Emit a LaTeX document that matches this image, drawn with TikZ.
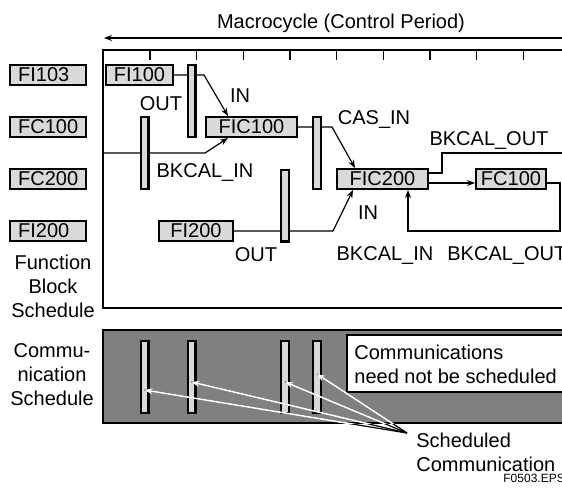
\documentclass[tikz,border=0pt]{standalone}
\usepackage{fontspec}
\setmainfont{Liberation Sans}
\usepackage{xcolor}
\usepackage{tikz}
\usetikzlibrary{arrows.meta, positioning, calc}

\definecolor{boxgray}{HTML}{D9D9D9}
\definecolor{commgray}{HTML}{808080}

\begin{document}
\begin{tikzpicture}[
        x=0.5pt, y=-0.5pt,
        font=\fontsize{10}{12}\selectfont,
        fblock/.style={draw, line width=1.2pt, fill=boxgray, minimum height=9.8pt, inner sep=0pt},
        lblock/.style={fblock, text width=29.8pt, inner xsep=4pt, align=left},
        bar/.style={draw, line width=1.2pt, fill=boxgray, minimum width=3.8pt, minimum height=35.8pt, inner sep=0pt},
        frame/.style={line width=1.2pt},
        link/.style={line width=0.6pt},
        tip/.style={link, -{Stealth[length=4pt, width=3pt]}},
        label/.style={anchor=base, inner sep=0pt}
    ]
    \clip (0,0) rectangle (562,492);

    % Macrocycle
    \node[label] (macro) at (341,29) {Macrocycle (Control Period)};
    \coordinate (mstart) at (580,38);
    \coordinate (mend) at (104,38);
    \draw[tip] (mstart) -- (mend);

    % Function block schedule frame
    \draw[frame] (103,50) rectangle (580,308);
    \foreach \k in {0,...,8}
        \draw[line width=0.8pt] ({150+46.67*\k},50) -- ++(0,10);

    % Block names on the left
    \node[lblock] (lfi103) at (48,75) {FI103};
    \node[lblock, below=15pt of lfi103] (lfc100) {FC100};
    \node[lblock, below=15pt of lfc100] (lfc200) {FC200};
    \node[lblock, below=15pt of lfc200] (lfi200) {FI200};
    \node[align=center, inner sep=0pt] (fbsched) at (53,286) {Function\\Block\\Schedule};

    % Function blocks
    \node[fblock, minimum width=33.3pt] (fi100) at (139.5,75) {FI100};
    \node[fblock, minimum width=45.3pt] (fic100) at (251.5,127) {FIC100};
    \node[fblock, minimum width=36.8pt] (fi200) at (196,231) {FI200};
    \node[fblock, minimum width=45.3pt] (fic200) at (382.5,179) {FIC200};
    \node[fblock, minimum width=34.8pt] (fc100) at (511,179) {FC100};

    % Connections
    \coordinate (bkin) at (103,153);
    \coordinate (bkout) at (580,153);
    \coordinate (fbloop) at (560,231);
    \draw[tip] (fi100.east) -- ++(30,0) -- ($(fic100.north west)+(23,0)$);
    \draw[tip] (bkin) -- ($(fic100.south west)+(0,15)$) -- ($(fic100.south west)+(23,0)$);
    \draw[tip] (fi200.east) -- ++(99,0) -- ($(fic200.south west)+(17,0)$);
    \draw[tip] (fic100.east) -- ++(34,0) -- ($(fic200.north west)+(19,0)$);
    \draw[tip] ($(fic200.east)+(0,4)$) -- ($(fc100.west)+(0,4)$);
    \draw[link] ($(fic200.east)+(0,-6)$) -- ++(13,0) |- (bkout);
    \draw[tip] ($(fc100.east)+(0,4)$) -| (fbloop) -| ($(fic200.south west)+(72,0)$);

    % Execution bars
    \node[bar] (bara) at (191.5,101) {};
    \node[bar] (barb) at (144.5,153) {};
    \node[bar] (barc) at (285,205.5) {};
    \node[bar] (bard) at (317,153) {};

    % Parameter names
    \node[label] (outa) at (161,111) {OUT};
    \node[label] (ina) at (240,103) {IN};
    \node[label] (bkina) at (205,177) {BKCAL\_IN};
    \node[label] (casin) at (374,125) {CAS\_IN};
    \node[label] (bkouta) at (489,146) {BKCAL\_OUT};
    \node[label] (inb) at (368,219) {IN};
    \node[label] (outb) at (256,261) {OUT};
    \node[label] (bkinb) at (385,260) {BKCAL\_IN};
    \node[label, anchor=base west] (bkoutb) at (447,260) {BKCAL\_OUT};

    % Communication schedule
    \draw[frame, fill=commgray] (103,330) rectangle (580,423);
    \node[align=center, inner sep=0pt] (csched) at (52,375) {Commu-\\nication\\Schedule};
    \draw[frame, fill=white] (347,335) rectangle (580,392);
    \node[align=left, anchor=west, inner sep=0pt] (note) at (354,364.5) {Communications\\need not be scheduled};
    \foreach \x/\n in {144.5/1, 191.5/2, 285/3, 317/4}
        \node[bar] (cbar\n) at (\x,377) {};

    % Scheduled communication pointers
    \node[align=left, anchor=west, inner sep=0pt] (schedcomm) at (416,452) {Scheduled\\Communication};
    \coordinate (schedtip) at (407,433);
    \foreach \n/\dy in {1/13, 2/5, 3/5, 4/-3}
        \draw[link] (schedtip) -- ($(cbar\n.center)+(0,\dy)$);
    \begin{scope}
        \clip (103,330) rectangle (580,423);
        \foreach \n/\dy in {1/13, 2/5, 3/5, 4/-3}
            \draw[tip, white, line width=0.8pt] (schedtip) -- ($(cbar\n.center)+(0,\dy)$);
    \end{scope}

    \node[label, anchor=base west, font=\fontsize{6}{7}\selectfont] (fig) at (503,482) {F0503.EPS};
\end{tikzpicture}
\end{document}
